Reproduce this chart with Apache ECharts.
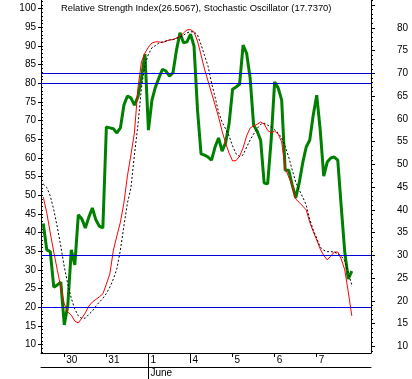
<!DOCTYPE html>
<html>
<head>
<meta charset="utf-8">
<script src="https://cdn.jsdelivr.net/npm/echarts@6.0.0/dist/echarts.min.js"></script>
<style>
html,body{margin:0;padding:0;background:#fff;}
#chart{width:412px;height:379px;}
</style>
</head>
<body>
<div id="chart"></div>
<script>
// Bars are on a 12-per-trading-day grid; bar 12 = first bar of May 30.
const firstBar = 6;
const dayTicks = [12, 24, 36, 48, 60, 72, 84];
const dayLabels = ['30', '31', '1', '4', '5', '6', '7'];
const monthTick = [36];
const monthLabel = ['June'];
const weekTick = [48];

// RSI (right axis)
const rsiValues = [37.0, 31.2, 30.8, 23.0, 23.5, 24.1, 14.7, 19.0, 31.2, 27.9,
  38.9, 38.0, 36.0, 38.4, 40.4, 37.8, 36.4, 36.0, 58.2, 58.0,
  57.8, 56.9, 58.0, 63.0, 65.0, 64.6, 63.0, 64.8, 69.0, 74.2,
  57.5, 64.1, 67.0, 69.0, 70.9, 70.5, 69.4, 70.1, 75.1, 78.9,
  76.7, 76.9, 78.6, 76.0, 61.9, 52.3, 52.0, 51.6, 50.9, 53.8,
  55.8, 52.9, 54.7, 58.9, 66.5, 67.0, 67.6, 76.2, 74.4, 69.0,
  58.6, 57.3, 55.3, 45.9, 45.7, 55.3, 68.1, 66.8, 64.1, 48.7,
  48.7, 45.5, 42.6, 45.9, 50.3, 53.8, 55.3, 60.8, 65.2, 57.5,
  47.4, 50.5, 51.4, 51.6, 50.9, 40.6, 30.7, 24.8, 26.5];

// Stochastic %K (left axis)
const stochK = [49.5, 45.3, 39.9, 34.8, 30.0, 25.4, 20.9, 18.7, 17.9, 16.3,
  15.8, 17.1, 18.5, 20.3, 21.4, 22.1, 22.8, 23.6, 26.2, 29.0,
  35.3, 39.1, 42.8, 47.9, 55.2, 60.8, 66.7, 78.7, 85.7, 88.1,
  89.7, 90.8, 91.1, 91.1, 90.9, 91.3, 91.6, 91.7, 92.1, 92.5,
  93.5, 94.3, 94.4, 93.7, 91.3, 87.6, 83.8, 80.6, 77.4, 74.2,
  71.0, 67.2, 64.0, 61.3, 59.2, 59.3, 60.5, 62.7, 65.9, 68.0,
  68.6, 69.0, 69.6, 69.1, 67.4, 66.7, 67.2, 66.4, 64.3, 57.3,
  54.9, 52.8, 49.0, 48.1, 47.1, 46.1, 42.8, 40.3, 38.0, 35.6,
  33.9, 32.7, 33.7, 34.8, 34.8, 32.9, 30.0, 24.1, 17.7];

// Stochastic %D (left axis)
const stochD = [53.0, 52.1, 49.8, 46.1, 41.5, 36.4, 30.8, 26.2, 22.4, 19.5,
  17.7, 17.0, 17.1, 18.1, 19.0, 20.3, 21.4, 22.4, 23.7, 25.4,
  27.6, 30.3, 35.3, 41.8, 47.9, 52.0, 60.8, 68.8, 78.7, 84.9,
  87.8, 89.5, 90.1, 90.8, 91.1, 91.3, 91.6, 91.7, 92.1, 92.4,
  92.9, 93.5, 93.8, 93.8, 92.9, 90.4, 87.4, 84.6, 80.1, 76.3,
  72.3, 69.6, 67.8, 65.9, 63.2, 61.1, 60.4, 60.8, 62.9, 64.8,
  66.4, 67.9, 69.0, 69.3, 68.8, 68.3, 67.6, 66.7, 65.3, 63.1,
  60.3, 56.8, 53.6, 51.4, 49.5, 47.4, 43.6, 40.7, 38.5, 36.1,
  35.3, 34.9, 34.9, 34.8, 34.3, 33.7, 32.4, 29.2, 26.0];

const leftLabels = [10, 15, 20, 25, 30, 35, 40, 45, 50, 55, 60, 65, 70, 75, 80, 85, 90, 95, 100];
const rightLabels = [10, 15, 20, 25, 30, 35, 40, 45, 50, 55, 60, 65, 70, 75, 80];
const rightMajorTicks = [10, 15, 20, 25, 30, 35, 40, 45, 50, 55, 60, 65, 70, 75, 80, 85];
const stochLevels = [80, 20];
const rsiLevels = [70, 30];
const titleText = 'Relative Strength Index(26.5067), Stochastic Oscillator (17.7370)';

const LMIN = 7.75, LMAX = 102.31, RMIN = 8.53, RMAX = 86.11, XMIN = 5.354, XMAX = 99.48;
const FONT = 'Liberation Sans';
const intRange = (a, b) => { const r = []; for (let v = a; v <= b; v++) r.push(v); return r; };
const toXY = arr => arr.map((v, i) => [firstBar + i, v]);

const chart = echarts.init(document.getElementById('chart'), null, {renderer: 'canvas'});
const baseX = {type: 'value', min: XMIN, max: XMAX, position: 'bottom', splitLine: {show: false}, gridIndex: 0};
const blue = '#0000dd';
const levelLine = {color: blue, width: 1, type: 'solid', opacity: 1};

chart.setOption({
  animation: false,
  backgroundColor: '#ffffff',
  title: {
    text: titleText, left: 61, top: 4, padding: 0,
    textStyle: {fontSize: 9.4, fontWeight: 'normal', color: '#000', fontFamily: FONT}
  },
  grid: {left: 41, right: 41, top: 0, bottom: 26, containLabel: false},
  xAxis: [
    Object.assign({}, baseX, {
      axisLine: {show: true, lineStyle: {color: '#000', width: 1}},
      axisTick: {show: true, customValues: dayTicks, length: 4, lineStyle: {color: '#000'}},
      axisLabel: {show: true, customValues: dayTicks, margin: 2, align: 'left', padding: [0, 0, 0, 2],
        fontSize: 10, color: '#000', fontFamily: FONT,
        formatter: v => dayLabels[dayTicks.indexOf(Math.round(v))] || ''}
    }),
    Object.assign({}, baseX, {
      axisLine: {show: false},
      axisTick: {show: true, customValues: weekTick, length: 10, lineStyle: {color: '#000'}},
      axisLabel: {show: false}
    }),
    Object.assign({}, baseX, {
      axisLine: {show: false},
      axisTick: {show: true, customValues: monthTick, length: 26, lineStyle: {color: '#000'}},
      axisLabel: {show: false}
    }),
    Object.assign({}, baseX, {
      offset: 14,
      axisLine: {show: true, lineStyle: {color: '#000', width: 1}},
      axisTick: {show: false},
      axisLabel: {show: true, customValues: monthTick, margin: 1, align: 'left', padding: [0, 0, 0, 2],
        fontSize: 10, color: '#000', fontFamily: FONT,
        formatter: v => monthLabel[monthTick.indexOf(Math.round(v))] || ''}
    })
  ],
  yAxis: [
    {
      type: 'value', position: 'left', min: LMIN, max: LMAX,
      splitLine: {show: false},
      axisLine: {show: true, lineStyle: {color: '#000'}},
      axisTick: {show: true, customValues: leftLabels, length: 3, lineStyle: {color: '#000'}},
      axisLabel: {show: true, customValues: leftLabels, margin: 5, fontSize: 10, color: '#000', fontFamily: FONT}
    },
    {
      type: 'value', position: 'left', min: LMIN, max: LMAX,
      splitLine: {show: false}, axisLine: {show: false},
      axisTick: {show: true, inside: true, customValues: intRange(8, 102), length: 2, lineStyle: {color: '#000'}},
      axisLabel: {show: false}
    },
    {
      type: 'value', position: 'right', min: RMIN, max: RMAX,
      splitLine: {show: false},
      axisLine: {show: true, lineStyle: {color: '#000'}},
      axisTick: {show: true, customValues: rightMajorTicks, length: 4, lineStyle: {color: '#000'}},
      axisLabel: {show: true, customValues: rightLabels, margin: 37, align: 'right', fontSize: 10, color: '#000', fontFamily: FONT}
    },
    {
      type: 'value', position: 'right', min: RMIN, max: RMAX,
      splitLine: {show: false}, axisLine: {show: false},
      axisTick: {show: true, customValues: intRange(9, 86), length: 2, lineStyle: {color: '#000'}},
      axisLabel: {show: false}
    }
  ],
  series: [
    {
      name: 'RSI', type: 'line', xAxisIndex: 0, yAxisIndex: 2, data: toXY(rsiValues),
      showSymbol: false, symbol: 'none', lineStyle: {color: '#008000', width: 3}, z: 2,
      markLine: {silent: true, symbol: 'none', label: {show: false},
        lineStyle: levelLine, emphasis: {disabled: true},
        data: rsiLevels.map(v => ({yAxis: v, lineStyle: levelLine}))}
    },
    {
      name: '%K', type: 'line', xAxisIndex: 0, yAxisIndex: 0, data: toXY(stochK),
      showSymbol: false, symbol: 'none', lineStyle: {color: '#ff0000', width: 1}, z: 3,
      markLine: {silent: true, symbol: 'none', label: {show: false},
        lineStyle: levelLine, emphasis: {disabled: true},
        data: stochLevels.map(v => ({yAxis: v, lineStyle: levelLine}))}
    },
    {
      name: '%D', type: 'line', xAxisIndex: 0, yAxisIndex: 0, data: toXY(stochD),
      showSymbol: false, symbol: 'none', lineStyle: {color: '#000000', width: 1, type: [2, 2]}, z: 4
    }
  ]
});
</script>
</body>
</html>
